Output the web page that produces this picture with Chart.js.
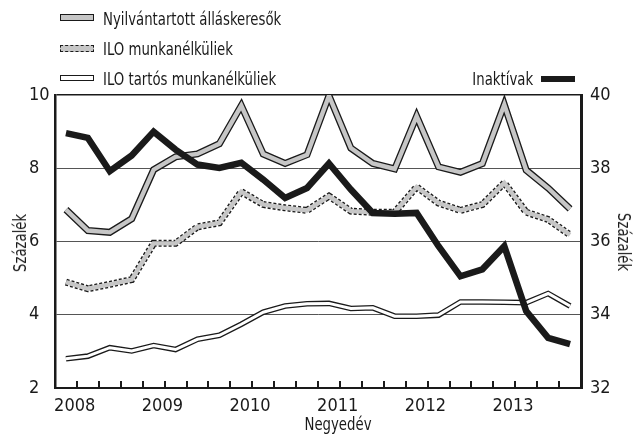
<!DOCTYPE html>
<html lang="hu">
<head>
<meta charset="UTF-8">
<title>Negyedéves adatok</title>
<style>
  body { margin: 0; background: #fff; }
  .wrap { position: relative; width: 637px; height: 440px; }
  .lg, .ttl { position: absolute; font-family: 'Liberation Sans Narrow', 'DejaVu Sans Condensed', sans-serif;
        font-size: 18px; line-height: 20px; color: #1a1a1a; white-space: nowrap; }
  .lg { transform: scaleX(0.82); transform-origin: left center; }
  .lg.end { transform-origin: right center; }
  .ttl { width: 0; height: 0; }
  .ttl span { position: absolute; left: 0; top: 0; }
  .sym { position: absolute; box-sizing: border-box; }
</style>
</head>
<body>
<div class="wrap">
  <canvas id="chart" width="637" height="440"></canvas>

  <div class="sym" style="left:60px;top:14px;width:34px;height:7px;background:#c6c6c6;border:1.3px solid #1a1a1a;"></div>
  <div class="lg" style="left:103px;top:9px;">Nyilvántartott álláskeresők</div>

  <div class="sym" style="left:60px;top:45px;width:34px;height:7px;background:#c6c6c6;border:1.3px dashed #1a1a1a;"></div>
  <div class="lg" style="left:103px;top:39px;">ILO munkanélküliek</div>

  <div class="sym" style="left:60px;top:75px;width:34px;height:6px;background:#fff;border:1.3px solid #1a1a1a;"></div>
  <div class="lg" style="left:103px;top:69px;">ILO tartós munkanélküliek</div>

  <div class="lg end" style="right:104px;top:69px;">Inaktívak</div>
  <div class="sym" style="left:541px;top:76px;width:34px;height:6px;background:#1a1a1a;"></div>

  <!-- axis titles -->
  <div class="ttl" style="left:20px;top:243px;"><span style="transform:translate(-50%,-50%) rotate(-90deg) scaleX(0.82);">Százalék</span></div>
  <div class="ttl" style="left:624px;top:242px;"><span style="transform:translate(-50%,-50%) rotate(90deg) scaleX(0.82);">Százalék</span></div>
  <div class="ttl" style="left:338px;top:424px;"><span style="transform:translate(-50%,-50%) scaleX(0.82);">Negyedév</span></div>
</div>

<script src="https://cdn.jsdelivr.net/npm/chart.js"></script>
<script>
    // 2008 Q1 - 2013 Q4
    const quarters = [
        '2008 I', '2008 II', '2008 III', '2008 IV',
        '2009 I', '2009 II', '2009 III', '2009 IV',
        '2010 I', '2010 II', '2010 III', '2010 IV',
        '2011 I', '2011 II', '2011 III', '2011 IV',
        '2012 I', '2012 II', '2012 III', '2012 IV',
        '2013 I', '2013 II', '2013 III', '2013 IV'
    ];
    const years = ['2008', '2009', '2010', '2011', '2012', '2013'];

    const nyilvantartott = [6.87, 6.30, 6.25, 6.62, 7.96, 8.31, 8.39, 8.67, 9.71, 8.39, 8.13, 8.37,
                            9.98, 8.55, 8.13, 7.98, 9.42, 8.04, 7.89, 8.13, 9.74, 7.95, 7.46, 6.89];
    const ilo = [4.89, 4.71, 4.83, 4.96, 5.95, 5.95, 6.40, 6.51, 7.36, 7.01, 6.92, 6.85,
                 7.24, 6.83, 6.80, 6.80, 7.49, 7.05, 6.85, 7.01, 7.60, 6.80, 6.60, 6.18];
    const iloTartos = [2.80, 2.87, 3.10, 3.01, 3.16, 3.05, 3.33, 3.44, 3.74, 4.07, 4.24, 4.30,
                       4.31, 4.17, 4.19, 3.96, 3.96, 3.99, 4.35, 4.35, 4.34, 4.33, 4.58, 4.24];
    const inaktivak = [38.96, 38.83, 37.92, 38.35, 39.00, 38.51, 38.10, 38.01, 38.15, 37.69, 37.19, 37.46,
                       38.13, 37.42, 36.78, 36.76, 36.78, 35.87, 35.05, 35.24, 35.87, 34.10, 33.37, 33.20];

    const FONT = "'Liberation Sans Narrow', 'DejaVu Sans Condensed', sans-serif";
    const INK = '#1a1a1a';
    const GREY = '#c6c6c6';

    const idx = quarters.map((q, i) => i);

    function line(data, color, width, axis, dash) {
        return {
            data: data,
            yAxisID: axis,
            borderColor: color,
            borderWidth: width,
            borderDash: dash || [],
            borderJoinStyle: 'miter',
            borderCapStyle: 'butt',
            pointRadius: 0,
            tension: 0,
            fill: false
        };
    }

    // tick marks inside the plot along the bottom axis
    const innerTicks = {
        id: 'innerTicks',
        afterDraw(chart) {
            const x = chart.scales.x;
            const ctx = chart.ctx;
            const y0 = chart.chartArea.bottom;
            ctx.save();
            ctx.strokeStyle = INK;
            ctx.lineWidth = 2;
            for (let i = 0; i < quarters.length - 1; i++) {
                const px = Math.round(x.getPixelForValue(i + 0.5));
                ctx.beginPath();
                ctx.moveTo(px, y0);
                ctx.lineTo(px, y0 - 7);
                ctx.stroke();
            }
            ctx.restore();
        }
    };

    const ctx = document.getElementById('chart').getContext('2d');
    new Chart(ctx, {
        type: 'line',
        data: {
            labels: idx,
            datasets: [
                line(inaktivak, INK, 6.5, 'y2'),
                line(iloTartos, '#ffffff', 3, 'y'),
                line(iloTartos, INK, 5.6, 'y'),
                line(ilo, GREY, 4.4, 'y'),
                line(ilo, INK, 7, 'y', [3, 2]),
                line(nyilvantartott, GREY, 4.4, 'y'),
                line(nyilvantartott, INK, 7, 'y')
            ]
        },
        options: {
            responsive: false,
            animation: false,
            layout: { padding: { top: 95, left: 29, right: 0, bottom: 0 } },
            plugins: { legend: { display: false }, tooltip: { enabled: false } },
            scales: {
                x: {
                    type: 'linear',
                    min: -0.5,
                    max: 23.5,
                    afterBuildTicks(scale) {
                        scale.ticks = years.map((y, i) => ({ value: i * 4 + 0.4 }));
                    },
                    afterFit(scale) { scale.height = 52; },
                    grid: { display: false, drawTicks: false },
                    border: { display: true, color: INK, width: 2 },
                    ticks: {
                        autoSkip: false,
                        maxRotation: 0,
                        padding: 8,
                        color: INK,
                        font: { family: FONT, size: 18 },
                        callback: (v, i) => years[i]
                    }
                },
                y: {
                    position: 'left',
                    min: 2,
                    max: 10,
                    afterFit(scale) { scale.width = 26; },
                    ticks: { stepSize: 2, padding: 7, crossAlign: 'far', color: INK, font: { family: FONT, size: 18 } },
                    grid: {
                        drawTicks: false,
                        color: c => c.tick.value === 2 ? 'rgba(0,0,0,0)' : (c.tick.value === 10 ? INK : '#555'),
                        lineWidth: c => c.tick.value === 10 ? 1.5 : 1
                    },
                    border: { display: true, color: INK, width: 2.5 }
                },
                y2: {
                    position: 'right',
                    min: 32,
                    max: 40,
                    afterFit(scale) { scale.width = 56; },
                    ticks: { stepSize: 2, padding: 9, color: INK, font: { family: FONT, size: 18 } },
                    grid: { drawOnChartArea: false, drawTicks: false },
                    border: { display: true, color: INK, width: 3 }
                }
            }
        },
        plugins: [innerTicks]
    });
</script>
</body>
</html>
